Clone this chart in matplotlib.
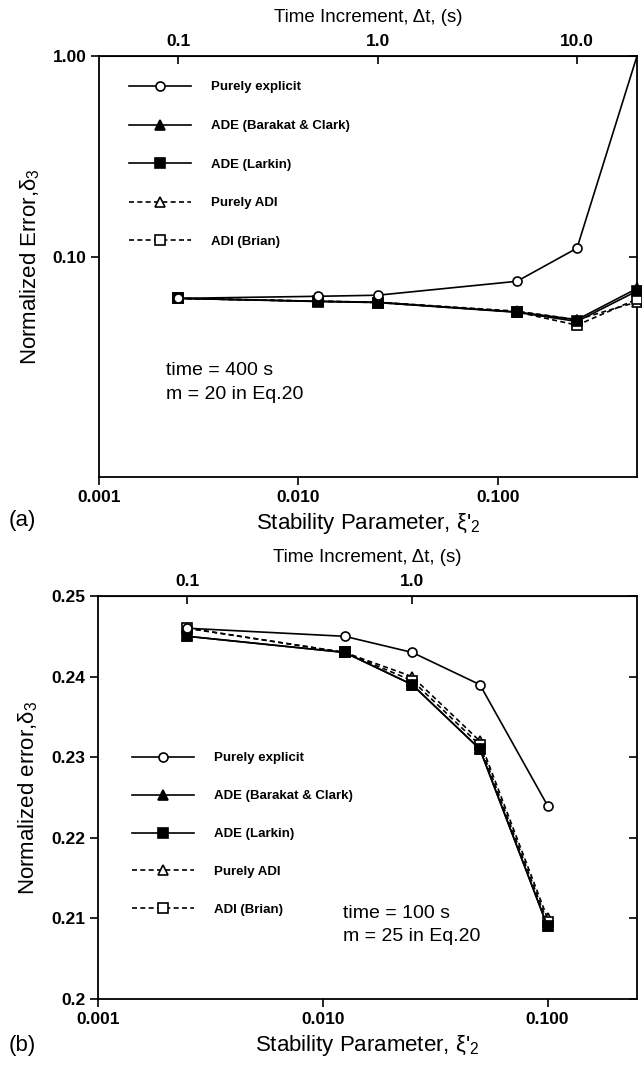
import numpy as np
import matplotlib
matplotlib.use("Agg")
import matplotlib.pyplot as plt
from matplotlib.lines import Line2D
from matplotlib.ticker import FixedLocator, NullLocator

plt.rcParams['font.family'] = ['Liberation Sans', 'DejaVu Sans']
plt.rcParams['mathtext.fontset'] = 'custom'
plt.rcParams['mathtext.rm'] = 'Liberation Sans'
plt.rcParams['mathtext.it'] = 'Liberation Sans:italic'

# ---------------------------------------------------------------
# data
# ---------------------------------------------------------------
# panel (a): time = 400 s
xi_a = [0.0025, 0.0125, 0.025, 0.125, 0.25, 0.5]
explicit_a = [0.0625, 0.064, 0.0648, 0.076, 0.111, 1.0]
ade_bc_a = [0.0625, 0.0605, 0.0598, 0.0535, 0.049, 0.070]
ade_larkin_a = [0.0625, 0.0603, 0.0596, 0.0533, 0.048, 0.068]
adi_a = [0.0625, 0.0605, 0.0598, 0.054, 0.049, 0.060]
adi_brian_a = [0.0625, 0.0605, 0.0596, 0.0535, 0.046, 0.062]

# panel (b): time = 100 s
xi_b = [0.0025, 0.0125, 0.025, 0.05, 0.1]
explicit_b = [0.246, 0.245, 0.243, 0.239, 0.224]
ade_bc_b = [0.245, 0.243, 0.239, 0.231, 0.209]
ade_larkin_b = [0.245, 0.243, 0.239, 0.231, 0.209]
adi_b = [0.246, 0.243, 0.240, 0.232, 0.210]
adi_brian_b = [0.246, 0.243, 0.2395, 0.2315, 0.2095]

labels = ['Purely explicit', 'ADE (Barakat & Clark)', 'ADE (Larkin)',
          'Purely ADI', 'ADI (Brian)']

# time increment = 40 * stability parameter
dt_factor = 40.0

# marker / line style for each scheme
styles = [
    dict(marker='o', mfc='white', ls='-'),
    dict(marker='^', mfc='black', ls='-'),
    dict(marker='s', mfc='black', ls='-'),
    dict(marker='^', mfc='white', ls=(0, (3, 2))),
    dict(marker='s', mfc='white', ls=(0, (3, 2))),
]
# dashed ones underneath, explicit on top
zorders = [6, 5, 5, 4, 4]

W, H = 642, 1070
fig = plt.figure(figsize=(W / 100, H / 100), dpi=100)


def px_axes(left, top, right, bottom):
    return fig.add_axes([left / W, 1 - bottom / H, (right - left) / W, (bottom - top) / H])


def draw_series(ax, x, series, last_marker=True):
    for i, (y, st) in enumerate(zip(series, styles)):
        mev = None
        if i == 0 and not last_marker:
            mev = list(range(len(x) - 1))
        ax.plot(x, y, color='black', lw=1.2, ls=st['ls'], marker=st['marker'],
                mfc=st['mfc'], mec='black', mew=1.2, ms=6.5, markevery=mev,
                clip_on=False, zorder=zorders[i])


def make_legend(ax, anchor, spacing):
    handles = [Line2D([], [], color='black', lw=1.2, ls=st['ls'], marker=st['marker'],
                      mfc=st['mfc'], mec='black', mew=1.2, ms=6.5) for st in styles]
    ax.legend(handles, labels, loc='upper left', bbox_to_anchor=anchor,
              frameon=False, numpoints=1, handlelength=4.7, handletextpad=1.5,
              labelspacing=spacing, borderpad=0, borderaxespad=0,
              prop=dict(family='Liberation Sans', weight='bold', size=9.5))


def style_axes(ax, top_ticks, top_labels):
    for sp in ax.spines.values():
        sp.set_linewidth(1.3)
    ax.tick_params(axis='both', which='major', direction='out', length=6, width=1.2,
                   labelsize=12.5, pad=3)
    ax.tick_params(axis='y', which='both', right=True, labelright=False)
    ax.tick_params(axis='x', which='both', top=False)
    for lab in ax.get_xticklabels() + ax.get_yticklabels():
        lab.set_fontweight('bold')
    sec = ax.secondary_xaxis('top', functions=(lambda x: x * dt_factor,
                                                lambda t: t / dt_factor))
    sec.set_xscale('log')
    sec.xaxis.set_major_locator(FixedLocator(top_ticks))
    sec.xaxis.set_minor_locator(NullLocator())
    sec.set_xticklabels(top_labels)
    sec.tick_params(direction='in', length=6, width=1.2, labelsize=12.5, pad=5)
    for lab in sec.get_xticklabels():
        lab.set_fontweight('bold')
    sec.set_xlabel('Time Increment, Δt, (s)', fontsize=13.5, labelpad=9)
    return sec


# ---------------------------------------------------------------
# panel (a)
# ---------------------------------------------------------------
ax1 = px_axes(99, 56, 637, 477)
ax1.set_xscale('log')
ax1.set_yscale('log')
ax1.set_xlim(0.001, 0.5)
ax1.set_ylim(0.0081, 1.0)
draw_series(ax1, xi_a, [explicit_a, ade_bc_a, ade_larkin_a, adi_a, adi_brian_a],
            last_marker=False)
ax1.xaxis.set_major_locator(FixedLocator([0.001, 0.01, 0.1]))
ax1.xaxis.set_minor_locator(NullLocator())
ax1.set_xticklabels(['0.001', '0.010', '0.100'])
ax1.yaxis.set_major_locator(FixedLocator([0.1, 1.0]))
ax1.yaxis.set_minor_locator(NullLocator())
ax1.set_yticklabels(['0.10', '1.00'])
style_axes(ax1, [0.1, 1.0, 10.0], ['0.1', '1.0', '10.0'])
ax1.set_xlabel("Stability Parameter, ξ'$_2$", fontsize=16, labelpad=5)
ax1.set_ylabel('Normalized Error,δ$_3$', fontsize=16, labelpad=8)
make_legend(ax1, (0.056, 0.94), 2.0)
ax1.text(0.125, 0.252, 'time = 400 s', transform=ax1.transAxes, fontsize=14,
         va='center', ha='left')
ax1.text(0.125, 0.197, 'm = 20 in Eq.20', transform=ax1.transAxes, fontsize=14,
         va='center', ha='left')
fig.text(22 / W, 1 - 520 / H, '(a)', fontsize=16, ha='center', va='center')

# ---------------------------------------------------------------
# panel (b)
# ---------------------------------------------------------------
ax2 = px_axes(98, 596, 637, 999)
ax2.set_xscale('log')
ax2.set_xlim(0.001, 0.25)
ax2.set_ylim(0.2, 0.25)
draw_series(ax2, xi_b, [explicit_b, ade_bc_b, ade_larkin_b, adi_b, adi_brian_b])
ax2.xaxis.set_major_locator(FixedLocator([0.001, 0.01, 0.1]))
ax2.xaxis.set_minor_locator(NullLocator())
ax2.set_xticklabels(['0.001', '0.010', '0.100'])
ax2.yaxis.set_major_locator(FixedLocator([0.2, 0.21, 0.22, 0.23, 0.24, 0.25]))
ax2.set_yticklabels(['0.2', '0.21', '0.22', '0.23', '0.24', '0.25'])
style_axes(ax2, [0.1, 1.0], ['0.1', '1.0'])
ax2.set_xlabel("Stability Parameter, ξ'$_2$", fontsize=16, labelpad=5)
ax2.set_ylabel('Normalized error,δ$_3$', fontsize=16, labelpad=8)
make_legend(ax2, (0.063, 0.613), 1.95)
ax2.text(0.455, 0.213, 'time = 100 s', transform=ax2.transAxes, fontsize=14,
         va='center', ha='left')
ax2.text(0.455, 0.154, 'm = 25 in Eq.20', transform=ax2.transAxes, fontsize=14,
         va='center', ha='left')
fig.text(22 / W, 1 - 1045 / H, '(b)', fontsize=16, ha='center', va='center')

# right-side ticks point inward
for ax in (ax1, ax2):
    for t in ax.yaxis.get_major_ticks():
        t.tick2line.set_marker(matplotlib.lines.TICKLEFT)

fig.savefig('out.png', dpi=100)
